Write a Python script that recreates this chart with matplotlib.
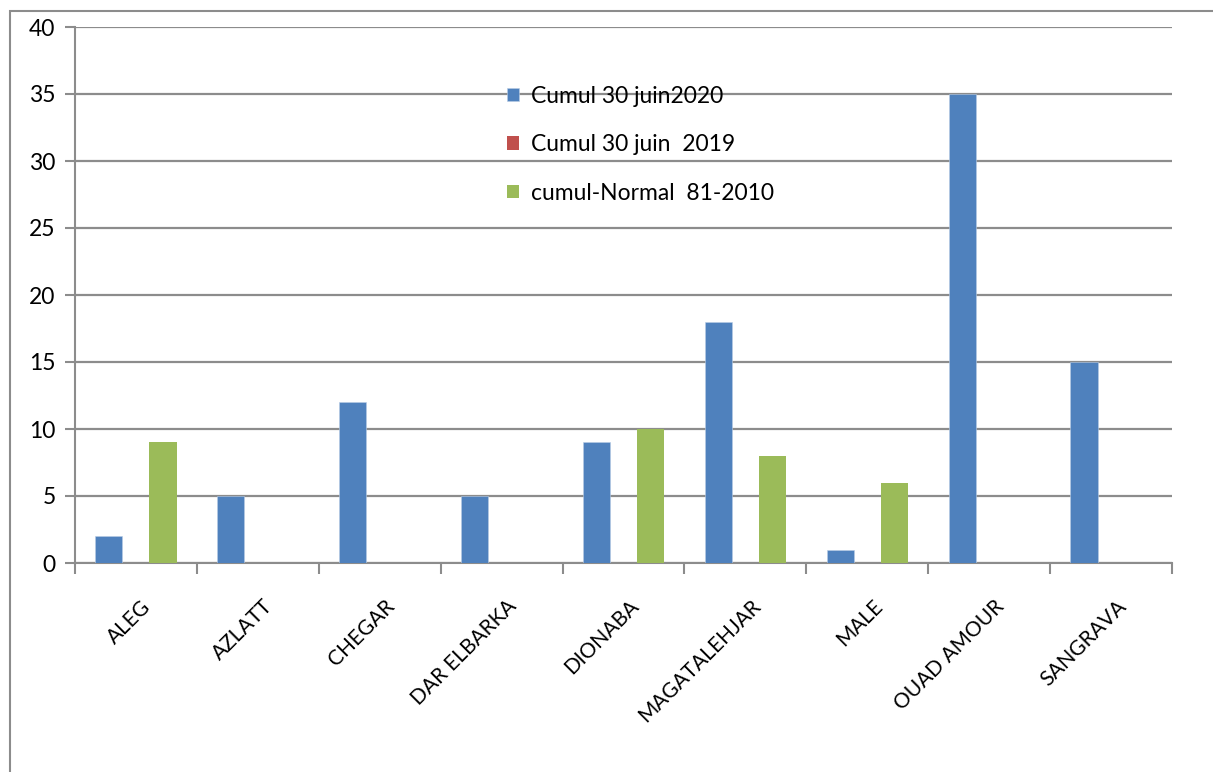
import matplotlib.pyplot as plt
import numpy as np
from matplotlib.patches import Rectangle

stations = ["ALEG", "AZLATT", "CHEGAR", "DAR ELBARKA", "DIONABA",
            "MAGATALEHJAR", "MALE", "OUAD AMOUR", "SANGRAVA"]
cumul_2020 = [2, 5, 12, 5, 9, 18, 1, 35, 15]
cumul_2019 = [0, 0, 0, 0, 0, 0, 0, 0, 0]
cumul_normal = [9, 0, 0, 0, 10, 8, 6, 0, 0]
series_names = ["Cumul 30 juin2020", "Cumul 30 juin  2019", "cumul-Normal  81-2010"]
colors = ["#4f81bd", "#c0504d", "#9bbb59"]

plt.rcParams['font.family'] = ['Lato', 'DejaVu Sans']

fig = plt.figure(figsize=(12.13, 7.72), dpi=100)
ax = fig.add_axes([75 / 1213, 1 - 563 / 772, 1097 / 1213, 536 / 772])

# outer chart frame
fig.add_artist(Rectangle((10 / 1213, -0.05), 1.1, 0.05 + 1 - 11 / 772,
                         transform=fig.transFigure, fill=False,
                         edgecolor="#8c8c8c", linewidth=1.5))

x = np.arange(len(stations))
w = 0.222
for i, (vals, name, c) in enumerate(zip([cumul_2020, cumul_2019, cumul_normal],
                                        series_names, colors)):
    ax.bar(x + (i - 1) * w, vals, width=w, color=c, label=name, zorder=3,
           edgecolor="#b9cde5" if i == 0 else "none", linewidth=0.4)

ax.set_xlim(-0.5, len(stations) - 0.5)
ax.set_ylim(0, 40)
ax.set_yticks(np.arange(0, 41, 5))
ax.yaxis.grid(True, color="#8c8c8c", linewidth=1.6, zorder=0)
ax.set_axisbelow(True)

# category boundaries get the tick marks, names sit at the centres
ax.set_xticks(np.arange(len(stations) + 1) - 0.5)
ax.set_xticklabels([])
ax.set_xticks(x + 0.04, labels=stations, minor=True, rotation=45, ha="right",
              rotation_mode="anchor", fontsize=15)
ax.tick_params(axis="x", which="major", length=8, width=1.5, color="#8c8c8c")
ax.tick_params(axis="x", which="minor", length=0, pad=24)
ax.tick_params(axis="y", length=7, width=1.5, color="#8c8c8c", labelsize=16.5, pad=7)

for s in ["top", "right"]:
    ax.spines[s].set_visible(False)
for s in ["left", "bottom"]:
    ax.spines[s].set_color("#8c8c8c")
    ax.spines[s].set_linewidth(1.5)

ax.legend(loc="upper left", bbox_to_anchor=(0.383, 0.912), frameon=False,
          fontsize=16.5, handlelength=0.55, handleheight=0.55,
          handletextpad=0.5, labelspacing=1.2, borderpad=0)

fig.savefig("out.png", dpi=100)
